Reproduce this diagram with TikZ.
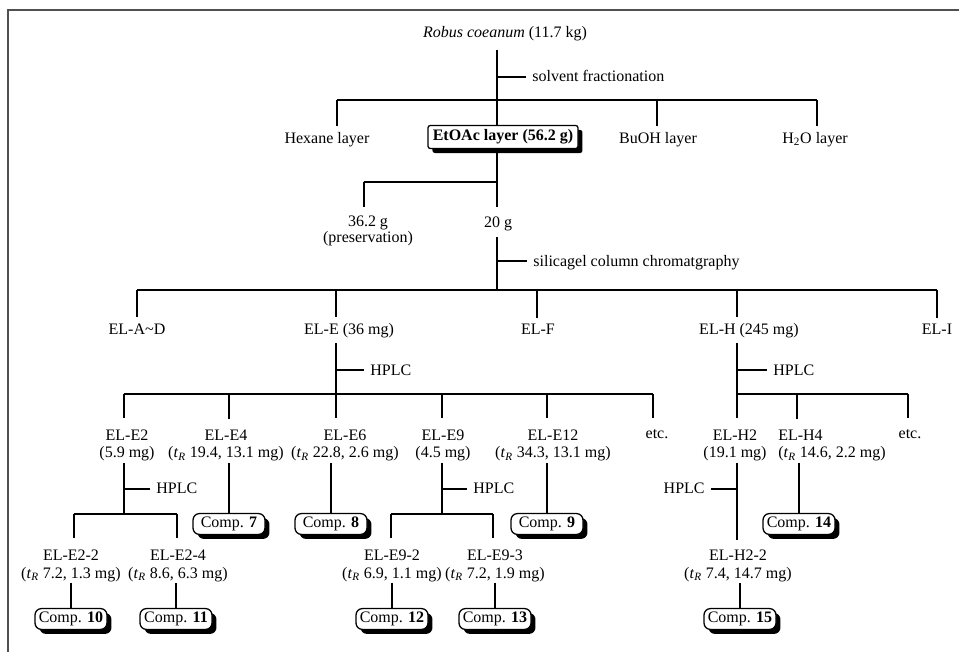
\documentclass[tikz,border=0pt]{standalone}
\usepackage{fontspec}
\setmainfont{Liberation Serif}
\usetikzlibrary{shadows}
\definecolor{FrameGray}{RGB}{80,80,80}
\newcommand{\tR}{\textit{t}\textsubscript{\textit{R}}}

\begin{document}
\begin{tikzpicture}[x=0.625pt, y=-0.625pt,
  ln/.style={line width=0.7pt},
  drop/.style={line width=0.7pt, shorten >=#1}, drop/.default=0pt,
  lbl/.style={inner sep=0pt, outer sep=1pt, align=center,
              font=\fontsize{10}{11}\selectfont},
  note/.style={inner sep=0pt, outer xsep=4pt, font=\fontsize{10}{11}\selectfont},
  layer/.style={draw, line width=0.8pt, fill=white, rounded corners=1.5pt,
                font=\bfseries, inner xsep=3pt, inner ysep=0pt, minimum height=14.4pt,
                general shadow={fill=black, shadow xshift=2.8pt, shadow yshift=-2.8pt}},
  comp/.style={draw, line width=0.8pt, fill=white, rounded corners=4pt,
               inner xsep=2pt, inner ysep=0pt, minimum width=45pt, minimum height=13pt,
               general shadow={fill=black, shadow xshift=2.8pt, shadow yshift=-2.8pt}},
]
\useasboundingbox (0,0) rectangle (959,652);
\draw[FrameGray, line width=1pt] (8,652) -- (8,10) -- (959,10);

% crude material and solvent partition
\node[lbl, anchor=base] (src) at (505,37) {\textit{Robus coeanum} (11.7 kg)};
\coordinate (j0) at (497,100);
\coordinate (t0) at (497,77);
\node[note, anchor=base west] (solv) at (526,81) {solvent fractionation};
\node[lbl, anchor=base] (hex) at (327,143) {Hexane layer};
\node[layer] (etoac) at (503,137) {EtOAc layer (56.2 g)};
\node[lbl, anchor=base] (buoh) at (658,143) {BuOH layer};
\node[lbl, anchor=base] (water) at (815,143) {H\textsubscript{2}O layer};
\coordinate (bHex) at (337,100);
\coordinate (bBu) at (657,100);
\coordinate (bWat) at (817,100);

\draw[ln, shorten <=5pt] (src.south -| j0) -- (etoac.north -| j0);
\draw[ln] (t0) -- (t0 -| solv.west);
\draw[ln] (bHex) -- (bWat);
\draw[drop=2.5pt] (bHex) -- (bHex |- hex.north);
\draw[drop=2.5pt] (bBu) -- (bBu |- buoh.north);
\draw[drop=2.5pt] (bWat) -- (bWat |- water.north);

% split of the EtOAc layer
\coordinate (j1) at (497,182);
\coordinate (b36) at (364,182);
\node[lbl, font=\fontsize{10}{9.5}\selectfont] (keep) at (368,231) {36.2 g\\(preservation)};
\node[lbl, anchor=base] (f20) at (498,227) {20 g};
\draw[ln, shorten >=4.6pt] (etoac.south -| j0) -- (f20.north -| j0);
\draw[ln] (b36) -- (j1);
\draw[drop=4.6pt] (b36) -- (b36 |- keep.north);

% silica gel column
\coordinate (j2) at (497,290);
\coordinate (t2) at (497,261);
\node[note, anchor=base west] (silica) at (527,266) {silicagel column chromatgraphy};
\draw[ln, shorten <=3pt] (f20.south -| j0) -- (j2);
\draw[ln] (t2) -- (t2 -| silica.west);
\coordinate (bAD) at (137,290);
\coordinate (bE) at (336,290);
\coordinate (bF) at (537,290);
\coordinate (bH) at (737,290);
\coordinate (bI) at (937,290);
\draw[ln] (bAD) -- (bI);
\node[lbl, anchor=base] (lAD) at (137,334) {EL-A\textasciitilde D};
\node[lbl, anchor=base] (lE) at (349,334) {EL-E (36 mg)};
\node[lbl, anchor=base] (lF) at (538,334) {EL-F};
\node[lbl, anchor=base] (lH) at (749,334) {EL-H (245 mg)};
\node[lbl, anchor=base] (lI) at (937,334) {EL-I};
\draw[drop=2.75pt] (bAD) -- (bAD |- lAD.north);
\draw[drop=2.75pt] (bE) -- (bE |- lE.north);
\draw[drop=2.75pt] (bF) -- (bF |- lF.north);
\draw[drop=2.75pt] (bH) -- (bH |- lH.north);
\draw[drop=2.75pt] (bI) -- (bI |- lI.north);

% HPLC of EL-E
\coordinate (jE) at (336,394);
\coordinate (tE) at (336,370);
\node[note, anchor=base west] (hplcE) at (364,375) {HPLC};
\draw[ln, shorten <=2.5pt] (lE.south -| jE) -- (jE);
\draw[ln] (tE) -- (tE -| hplcE.west);
\coordinate (bE2) at (124,394);
\coordinate (bE4) at (229,394);
\coordinate (bE9) at (442,394);
\coordinate (bE12) at (547,394);
\coordinate (bEx) at (653,394);
\draw[ln] (bE2) -- (bEx);
\node[lbl] (lE2) at (127,445.5) {EL-E2\\(5.9 mg)};
\node[lbl] (lE4) at (226,445.5) {EL-E4\\(\tR{} 19.4, 13.1 mg)};
\node[lbl] (lE6) at (345,445.5) {EL-E6\\(\tR{} 22.8, 2.6 mg)};
\node[lbl] (lE9) at (443,445.5) {EL-E9\\(4.5 mg)};
\node[lbl] (lE12) at (553,445.5) {EL-E12\\(\tR{} 34.3, 13.1 mg)};
\node[lbl, anchor=base] (etcE) at (657,438) {etc.};
\draw[drop=6pt] (bE2) -- (bE2 |- lE2.north);
\draw[drop=6pt] (bE4) -- (bE4 |- lE4.north);
\draw[drop=6pt] (jE) -- (jE |- lE6.north);
\draw[drop=6pt] (bE9) -- (bE9 |- lE9.north);
\draw[drop=6pt] (bE12) -- (bE12 |- lE12.north);
\draw[drop=6pt] (bEx) -- (bEx |- etcE.north);

% HPLC of EL-H
\coordinate (jH) at (737,394);
\coordinate (tH) at (737,370);
\node[note, anchor=base west] (hplcH) at (767,375) {HPLC};
\draw[ln, shorten <=2.5pt] (lH.south -| jH) -- (jH);
\draw[ln] (tH) -- (tH -| hplcH.west);
\coordinate (bH4) at (797,394);
\coordinate (bHx) at (908,394);
\draw[ln] (jH) -- (bHx);
\node[lbl] (lH2) at (735,445.5) {EL-H2\\(19.1 mg)};
\node[lbl, align=left] (lH4) at (832,445.5) {EL-H4\\(\tR{} 14.6, 2.2 mg)};
\node[lbl, anchor=base] (etcH) at (910,438) {etc.};
\draw[drop=6pt] (jH) -- (jH |- lH2.north);
\draw[drop=6pt] (bH4) -- (bH4 |- lH4.north);
\draw[drop=6pt] (bHx) -- (bHx |- etcH.north);

% EL-E2 subfractions
\coordinate (jE2) at (124,514);
\coordinate (tE2) at (124,489);
\node[note, anchor=base west] (hplcE2) at (150,493) {HPLC};
\draw[ln] (lE2.south -| jE2) -- (jE2);
\draw[ln] (tE2) -- (tE2 -| hplcE2.west);
\coordinate (bE22) at (74,514);
\coordinate (bE24) at (177,514);
\draw[ln] (bE22) -- (bE24);
\node[lbl] (lE22) at (71,566) {EL-E2-2\\(\tR{} 7.2, 1.3 mg)};
\node[lbl] (lE24) at (178,566) {EL-E2-4\\(\tR{} 8.6, 6.3 mg)};
\draw[drop=6.75pt] (bE22) -- (bE22 |- lE22.north);
\draw[drop=6.75pt] (bE24) -- (bE24 |- lE24.north);

% EL-E9 subfractions
\coordinate (jE9) at (442,514);
\coordinate (tE9) at (442,489);
\node[note, anchor=base west] (hplcE9) at (467,493) {HPLC};
\draw[ln] (lE9.south -| jE9) -- (jE9);
\draw[ln] (tE9) -- (tE9 -| hplcE9.west);
\coordinate (bE92) at (391,514);
\coordinate (bE93) at (493,514);
\draw[ln] (bE92) -- (bE93);
\node[lbl] (lE92) at (392,566) {EL-E9-2\\(\tR{} 6.9, 1.1 mg)};
\node[lbl] (lE93) at (495,566) {EL-E9-3\\(\tR{} 7.2, 1.9 mg)};
\draw[drop=6.75pt] (bE92) -- (bE92 |- lE92.north);
\draw[drop=6.75pt] (bE93) -- (bE93 |- lE93.north);

% EL-H2 subfraction
\coordinate (tH2) at (737,489);
\node[note, anchor=base east] (hplcH2) at (711,493) {HPLC};
\node[lbl] (lH22) at (738,566) {EL-H2-2\\(\tR{} 7.4, 14.7 mg)};
\draw[ln, shorten >=5.5pt] (lH2.south -| tH2) -- (lH22.north -| tH2);
\draw[ln] (tH2) -- (tH2 -| hplcH2.east);

% isolated compounds
\node[comp] (c7) at (229,524) {Comp. \textbf{7}};
\node[comp] (c8) at (331,524) {Comp. \textbf{8}};
\node[comp] (c9) at (547,524) {Comp. \textbf{9}};
\node[comp] (c14) at (799,524) {Comp. \textbf{14}};
\node[comp] (c10) at (71,619) {Comp. \textbf{10}};
\node[comp] (c11) at (176,619) {Comp. \textbf{11}};
\node[comp] (c12) at (392,619) {Comp. \textbf{12}};
\node[comp] (c13) at (495,619) {Comp. \textbf{13}};
\node[comp] (c15) at (740,619) {Comp. \textbf{15}};
\draw[ln] (c7.north |- lE4.south) -- (c7.north);
\draw[ln] (c8.north |- lE6.south) -- (c8.north);
\draw[ln] (c9.north |- lE12.south) -- (c9.north);
\draw[ln] (c14.north |- lH4.south) -- (c14.north);
\draw[ln] (c10.north |- lE22.south) -- (c10.north);
\draw[ln] (c11.north |- lE24.south) -- (c11.north);
\draw[ln] (c12.north |- lE92.south) -- (c12.north);
\draw[ln] (c13.north |- lE93.south) -- (c13.north);
\draw[ln] (c15.north |- lH22.south) -- (c15.north);
\end{tikzpicture}
\end{document}
